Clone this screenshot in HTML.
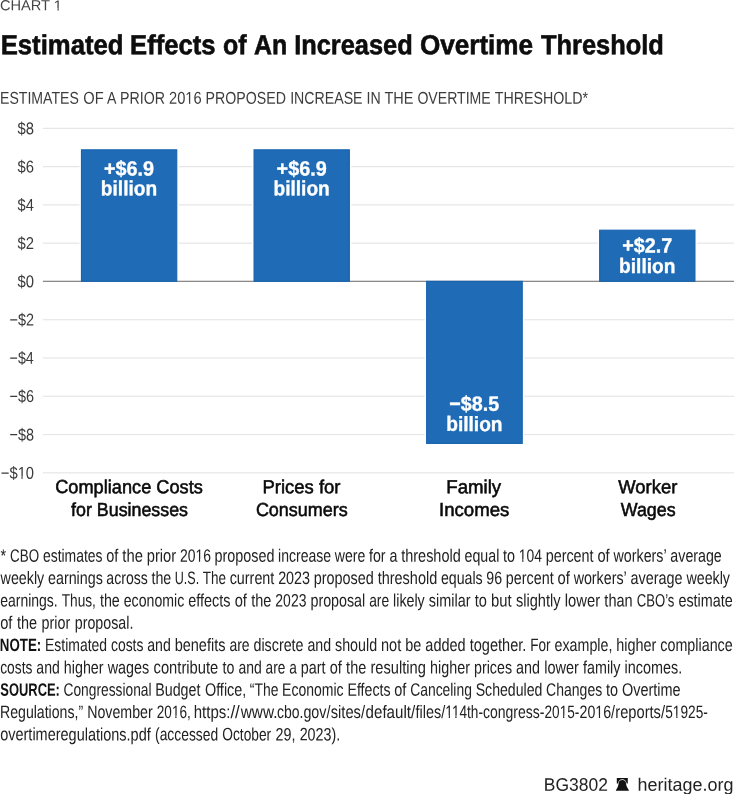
<!DOCTYPE html>
<html lang="en">
<head>
<meta charset="utf-8">
<title>Estimated Effects of An Increased Overtime Threshold</title>
<style>
html,body{margin:0;padding:0;background:#fff;}
body{width:734px;height:794px;overflow:hidden;font-family:'Liberation Sans', Arial, Helvetica, sans-serif;}
svg{display:block;}
svg text{font-family:'Liberation Sans', Arial, Helvetica, sans-serif;white-space:pre;}
</style>
</head>
<body>
<svg width="734" height="794" viewBox="0 0 734 794" role="img" aria-label="Estimated Effects of An Increased Overtime Threshold">
<rect width="734" height="794" fill="#fff"/>
<g id="grid" fill="#e6e6e6">
<rect x="42.9" y="127.77" width="691.1" height="1.2"/>
<rect x="42.9" y="166.04" width="691.1" height="1.2"/>
<rect x="42.9" y="204.31" width="691.1" height="1.2"/>
<rect x="42.9" y="242.58" width="691.1" height="1.2"/>
<rect x="42.9" y="319.12" width="691.1" height="1.2"/>
<rect x="42.9" y="357.39" width="691.1" height="1.2"/>
<rect x="42.9" y="395.66" width="691.1" height="1.2"/>
<rect x="42.9" y="433.93" width="691.1" height="1.2"/>
<rect x="42.9" y="472.20" width="691.1" height="1.2"/>
</g>
<g id="halo" fill="#fff">
<rect x="79.50" y="147.87" width="99.20" height="135.33"/>
<rect x="252.10" y="147.87" width="99.20" height="135.33"/>
<rect x="424.70" y="279.40" width="99.50" height="165.95"/>
<rect x="597.70" y="228.24" width="99.20" height="54.96"/>
</g>
<rect id="zero" x="42.9" y="280.70" width="691.1" height="1.3" fill="#8a8a8a"/>
<g id="bars" fill="#1f6bb5" stroke="#1662b0" stroke-width="1.1">
<rect x="81.45" y="149.82" width="95.30" height="131.43"/>
<rect x="254.05" y="149.82" width="95.30" height="131.43"/>
<rect x="426.65" y="281.35" width="95.60" height="162.05"/>
<rect x="599.65" y="230.19" width="95.30" height="51.06"/>
</g>
<g id="kicker" font-size="14.6" fill="#444">
<text transform="translate(-0.10 10.32) rotate(0.06) scale(1.0025 1)">CHART 1</text>
</g>
<g id="title" font-size="27.7" fill="#0d0d0d" font-weight="bold" stroke="#0d0d0d" stroke-width="0.6">
<text transform="translate(0.71 54.14) rotate(0.06) scale(0.9277 1)">Estimated</text>
<text transform="translate(130.11 54.16) rotate(0.06) scale(0.9244 1)">Effects</text>
<text transform="translate(223.02 54.19) rotate(0.06) scale(0.9010 1)">of</text>
<text transform="translate(253.98 54.18) rotate(0.06) scale(0.8993 1)">An</text>
<text transform="translate(294.23 54.14) rotate(0.06) scale(0.9156 1)">Increased</text>
<text transform="translate(419.99 54.14) rotate(0.06) scale(0.9415 1)">Overtime</text>
<text transform="translate(541.00 54.14) rotate(0.06) scale(0.9172 1)">Threshold</text>
</g>
<g id="subtitle" font-size="17.1" fill="#3c3c3c">
<text transform="translate(0.06 103.76) rotate(0.06) scale(0.8247 1)">ESTIMATES</text>
<text transform="translate(83.26 103.79) rotate(0.06) scale(0.8584 1)">OF</text>
<text transform="translate(107.10 103.80) rotate(0.06) scale(0.8267 1)">A</text>
<text transform="translate(119.95 103.78) rotate(0.06) scale(0.8309 1)">PRIOR</text>
<text transform="translate(169.06 103.78) rotate(0.06) scale(0.8575 1)">2016</text>
<text transform="translate(205.55 103.76) rotate(0.06) scale(0.8307 1)">PROPOSED</text>
<text transform="translate(290.16 103.76) rotate(0.06) scale(0.8282 1)">INCREASE</text>
<text transform="translate(366.46 103.79) rotate(0.06) scale(0.8281 1)">IN</text>
<text transform="translate(384.39 103.79) rotate(0.06) scale(0.8481 1)">THE</text>
<text transform="translate(417.38 103.76) rotate(0.06) scale(0.8251 1)">OVERTIME</text>
<text transform="translate(494.79 103.75) rotate(0.06) scale(0.8332 1)">THRESHOLD*</text>
</g>
<g id="yaxis" font-size="17.1" fill="#3a3a3a">
<text transform="translate(17.58 134.21) rotate(0.06) scale(0.8667 1)">$8</text>
<text transform="translate(17.58 172.48) rotate(0.06) scale(0.8667 1)">$6</text>
<text transform="translate(17.59 210.75) rotate(0.06) scale(0.8548 1)">$4</text>
<text transform="translate(17.58 249.02) rotate(0.06) scale(0.8667 1)">$2</text>
<text transform="translate(17.58 287.29) rotate(0.06) scale(0.8667 1)">$0</text>
<text transform="translate(9.57 325.56) rotate(0.06) scale(0.8436 1)">−$2</text>
<text transform="translate(9.57 363.83) rotate(0.06) scale(0.8360 1)">−$4</text>
<text transform="translate(9.57 402.10) rotate(0.06) scale(0.8436 1)">−$6</text>
<text transform="translate(9.57 440.37) rotate(0.06) scale(0.8436 1)">−$8</text>
<text transform="translate(0.85 478.63) rotate(0.06) scale(0.8622 1)">−$10</text>
</g>
<g id="barlabels" font-size="20.6" fill="#fff" font-weight="bold" stroke="#fff" stroke-width="0.35">
<text transform="translate(103.98 175.57) rotate(0.06) scale(0.9616 1)">+$6.9</text>
<text transform="translate(100.84 195.27) rotate(0.06) scale(0.9305 1)">billion</text>
<text transform="translate(276.58 175.57) rotate(0.06) scale(0.9616 1)">+$6.9</text>
<text transform="translate(273.44 195.27) rotate(0.06) scale(0.9305 1)">billion</text>
<text transform="translate(449.33 410.77) rotate(0.06) scale(0.9569 1)">−$8.5</text>
<text transform="translate(446.19 430.87) rotate(0.06) scale(0.9305 1)">billion</text>
<text transform="translate(622.18 252.37) rotate(0.06) scale(0.9616 1)">+$2.7</text>
<text transform="translate(619.04 272.87) rotate(0.06) scale(0.9305 1)">billion</text>
</g>
<g id="xaxis" font-size="18.8" fill="#0a0a0a" stroke="#0a0a0a" stroke-width="0.55">
<text transform="translate(55.17 493.12) rotate(0.06) scale(0.9679 1)">Compliance Costs</text>
<text transform="translate(71.10 515.94) rotate(0.06) scale(0.9491 1)">for Businesses</text>
<text transform="translate(262.47 493.16) rotate(0.06) scale(0.9833 1)">Prices for</text>
<text transform="translate(255.88 515.95) rotate(0.06) scale(0.9568 1)">Consumers</text>
<text transform="translate(446.36 493.17) rotate(0.06) scale(0.9908 1)">Family</text>
<text transform="translate(439.01 515.96) rotate(0.06) scale(0.9913 1)">Incomes</text>
<text transform="translate(618.25 493.17) rotate(0.06) scale(0.9802 1)">Worker</text>
<text transform="translate(620.74 515.97) rotate(0.06) scale(0.9489 1)">Wages</text>
</g>
<g id="note1" font-size="18.0" fill="#222">
<text transform="translate(0.60 561.75) rotate(0.06) scale(0.7955 1)">*</text>
<text transform="translate(10.12 561.74) rotate(0.06) scale(0.7445 1)">CBO</text>
<text transform="translate(42.97 561.72) rotate(0.06) scale(0.7736 1)">estimates</text>
<text transform="translate(106.23 561.74) rotate(0.06) scale(0.8065 1)">of</text>
<text transform="translate(122.32 561.74) rotate(0.06) scale(0.8222 1)">the</text>
<text transform="translate(146.72 561.74) rotate(0.06) scale(0.8165 1)">prior</text>
<text transform="translate(179.95 561.73) rotate(0.06) scale(0.7730 1)">2016</text>
<text transform="translate(214.57 561.72) rotate(0.06) scale(0.7982 1)">proposed</text>
<text transform="translate(278.09 561.72) rotate(0.06) scale(0.7798 1)">increase</text>
<text transform="translate(334.82 561.73) rotate(0.06) scale(0.7813 1)">were</text>
<text transform="translate(369.03 561.74) rotate(0.06) scale(0.7892 1)">for</text>
<text transform="translate(389.39 561.75) rotate(0.06) scale(0.7940 1)">a</text>
<text transform="translate(401.19 561.72) rotate(0.06) scale(0.8045 1)">threshold</text>
<text transform="translate(464.53 561.73) rotate(0.06) scale(0.7906 1)">equal</text>
<text transform="translate(503.05 561.74) rotate(0.06) scale(0.7972 1)">to</text>
<text transform="translate(518.75 561.74) rotate(0.06) scale(0.7701 1)">104</text>
<text transform="translate(545.67 561.73) rotate(0.06) scale(0.7986 1)">percent</text>
<text transform="translate(597.44 561.74) rotate(0.06) scale(0.8141 1)">of</text>
<text transform="translate(613.52 561.72) rotate(0.06) scale(0.7930 1)">workers’</text>
<text transform="translate(670.35 561.72) rotate(0.06) scale(0.7914 1)">average</text>
</g>
<g id="note2" font-size="18.0" fill="#222">
<text transform="translate(0.60 584.06) rotate(0.06) scale(0.7934 1)">weekly</text>
<text transform="translate(47.99 584.05) rotate(0.06) scale(0.7939 1)">earnings</text>
<text transform="translate(106.35 584.06) rotate(0.06) scale(0.7817 1)">across</text>
<text transform="translate(151.45 584.07) rotate(0.06) scale(0.7921 1)">the</text>
<text transform="translate(174.80 584.07) rotate(0.06) scale(0.6986 1)">U.S.</text>
<text transform="translate(202.84 584.07) rotate(0.06) scale(0.7491 1)">The</text>
<text transform="translate(229.67 584.06) rotate(0.06) scale(0.7979 1)">current</text>
<text transform="translate(278.14 584.06) rotate(0.06) scale(0.7968 1)">2023</text>
<text transform="translate(313.72 584.05) rotate(0.06) scale(0.8020 1)">proposed</text>
<text transform="translate(377.64 584.05) rotate(0.06) scale(0.8050 1)">threshold</text>
<text transform="translate(440.89 584.06) rotate(0.06) scale(0.7876 1)">equals</text>
<text transform="translate(486.34 584.07) rotate(0.06) scale(0.7881 1)">96</text>
<text transform="translate(505.82 584.06) rotate(0.06) scale(0.7966 1)">percent</text>
<text transform="translate(557.49 584.07) rotate(0.06) scale(0.8199 1)">of</text>
<text transform="translate(573.63 584.05) rotate(0.06) scale(0.7928 1)">workers’</text>
<text transform="translate(630.54 584.05) rotate(0.06) scale(0.8007 1)">average</text>
<text transform="translate(686.44 584.06) rotate(0.06) scale(0.7920 1)">weekly</text>
</g>
<g id="note3" font-size="18.0" fill="#222">
<text transform="translate(0.22 606.38) rotate(0.06) scale(0.7776 1)">earnings.</text>
<text transform="translate(61.67 606.39) rotate(0.06) scale(0.7610 1)">Thus,</text>
<text transform="translate(99.94 606.40) rotate(0.06) scale(0.7930 1)">the</text>
<text transform="translate(123.75 606.38) rotate(0.06) scale(0.7851 1)">economic</text>
<text transform="translate(188.25 606.39) rotate(0.06) scale(0.8026 1)">effects</text>
<text transform="translate(234.68 606.40) rotate(0.06) scale(0.8147 1)">of</text>
<text transform="translate(251.14 606.40) rotate(0.06) scale(0.8055 1)">the</text>
<text transform="translate(275.35 606.39) rotate(0.06) scale(0.7769 1)">2023</text>
<text transform="translate(310.45 606.38) rotate(0.06) scale(0.7935 1)">proposal</text>
<text transform="translate(369.17 606.40) rotate(0.06) scale(0.7674 1)">are</text>
<text transform="translate(393.06 606.39) rotate(0.06) scale(0.7920 1)">likely</text>
<text transform="translate(428.84 606.39) rotate(0.06) scale(0.8018 1)">similar</text>
<text transform="translate(474.72 606.40) rotate(0.06) scale(0.8108 1)">to</text>
<text transform="translate(491.02 606.40) rotate(0.06) scale(0.8225 1)">but</text>
<text transform="translate(515.93 606.39) rotate(0.06) scale(0.8103 1)">slightly</text>
<text transform="translate(564.79 606.39) rotate(0.06) scale(0.8210 1)">lower</text>
<text transform="translate(604.36 606.40) rotate(0.06) scale(0.8072 1)">than</text>
<text transform="translate(636.75 606.39) rotate(0.06) scale(0.7286 1)">CBO’s</text>
<text transform="translate(678.40 606.38) rotate(0.06) scale(0.7985 1)">estimate</text>
</g>
<g id="note4" font-size="18.0" fill="#222">
<text transform="translate(0.19 628.73) rotate(0.06) scale(0.8124 1)">of</text>
<text transform="translate(17.02 628.73) rotate(0.06) scale(0.8041 1)">the</text>
<text transform="translate(41.62 628.73) rotate(0.06) scale(0.7967 1)">prior</text>
<text transform="translate(74.77 628.71) rotate(0.06) scale(0.7922 1)">proposal.</text>
</g>
<g id="note5" font-size="18.0" fill="#111" font-weight="bold">
<text transform="translate(-0.22 651.05) rotate(0.06) scale(0.7400 1)">NOTE:</text>
<text transform="translate(45.06 651.04) rotate(0.06) scale(0.7753 1)" font-weight="normal" fill="#222">Estimated</text>
<text transform="translate(110.94 651.05) rotate(0.06) scale(0.7741 1)" font-weight="normal" fill="#222">costs</text>
<text transform="translate(147.24 651.06) rotate(0.06) scale(0.7836 1)" font-weight="normal" fill="#222">and</text>
<text transform="translate(174.64 651.04) rotate(0.06) scale(0.8071 1)" font-weight="normal" fill="#222">benefits</text>
<text transform="translate(229.44 651.06) rotate(0.06) scale(0.7770 1)" font-weight="normal" fill="#222">are</text>
<text transform="translate(253.49 651.04) rotate(0.06) scale(0.7945 1)" font-weight="normal" fill="#222">discrete</text>
<text transform="translate(307.44 651.06) rotate(0.06) scale(0.7892 1)" font-weight="normal" fill="#222">and</text>
<text transform="translate(334.99 651.05) rotate(0.06) scale(0.7939 1)" font-weight="normal" fill="#222">should</text>
<text transform="translate(381.02 651.06) rotate(0.06) scale(0.8088 1)" font-weight="normal" fill="#222">not</text>
<text transform="translate(405.30 651.06) rotate(0.06) scale(0.8022 1)" font-weight="normal" fill="#222">be</text>
<text transform="translate(425.35 651.05) rotate(0.06) scale(0.8047 1)" font-weight="normal" fill="#222">added</text>
<text transform="translate(469.65 651.04) rotate(0.06) scale(0.8095 1)" font-weight="normal" fill="#222">together.</text>
<text transform="translate(530.29 651.06) rotate(0.06) scale(0.7530 1)" font-weight="normal" fill="#222">For</text>
<text transform="translate(554.56 651.04) rotate(0.06) scale(0.7918 1)" font-weight="normal" fill="#222">example,</text>
<text transform="translate(616.26 651.05) rotate(0.06) scale(0.8014 1)" font-weight="normal" fill="#222">higher</text>
<text transform="translate(660.34 651.03) rotate(0.06) scale(0.7952 1)" font-weight="normal" fill="#222">compliance</text>
</g>
<g id="note6" font-size="18.0" fill="#222">
<text transform="translate(0.22 673.38) rotate(0.06) scale(0.7663 1)">costs</text>
<text transform="translate(36.36 673.39) rotate(0.06) scale(0.7799 1)">and</text>
<text transform="translate(63.80 673.38) rotate(0.06) scale(0.7945 1)">higher</text>
<text transform="translate(107.69 673.38) rotate(0.06) scale(0.7996 1)">wages</text>
<text transform="translate(153.53 673.37) rotate(0.06) scale(0.8198 1)">contribute</text>
<text transform="translate(222.53 673.39) rotate(0.06) scale(0.7900 1)">to</text>
<text transform="translate(238.38 673.39) rotate(0.06) scale(0.7749 1)">and</text>
<text transform="translate(265.53 673.39) rotate(0.06) scale(0.7603 1)">are</text>
<text transform="translate(289.18 673.40) rotate(0.06) scale(0.7594 1)">a</text>
<text transform="translate(300.82 673.39) rotate(0.06) scale(0.7963 1)">part</text>
<text transform="translate(329.73 673.39) rotate(0.06) scale(0.8097 1)">of</text>
<text transform="translate(346.12 673.39) rotate(0.06) scale(0.8048 1)">the</text>
<text transform="translate(370.45 673.37) rotate(0.06) scale(0.8155 1)">resulting</text>
<text transform="translate(430.06 673.38) rotate(0.06) scale(0.7976 1)">higher</text>
<text transform="translate(474.06 673.38) rotate(0.06) scale(0.7911 1)">prices</text>
<text transform="translate(516.11 673.39) rotate(0.06) scale(0.7965 1)">and</text>
<text transform="translate(544.16 673.38) rotate(0.06) scale(0.8065 1)">lower</text>
<text transform="translate(583.09 673.38) rotate(0.06) scale(0.7945 1)">family</text>
<text transform="translate(624.57 673.37) rotate(0.06) scale(0.8005 1)">incomes.</text>
</g>
<g id="note7" font-size="18.0" fill="#111" font-weight="bold">
<text transform="translate(0.34 695.70) rotate(0.06) scale(0.7187 1)">SOURCE:</text>
<text transform="translate(63.52 695.68) rotate(0.06) scale(0.7650 1)" font-weight="normal" fill="#222">Congressional</text>
<text transform="translate(155.21 695.71) rotate(0.06) scale(0.7928 1)" font-weight="normal" fill="#222">Budget</text>
<text transform="translate(204.91 695.71) rotate(0.06) scale(0.8022 1)" font-weight="normal" fill="#222">Office,</text>
<text transform="translate(249.84 695.72) rotate(0.06) scale(0.7726 1)" font-weight="normal" fill="#222">“The</text>
<text transform="translate(282.10 695.70) rotate(0.06) scale(0.7795 1)" font-weight="normal" fill="#222">Economic</text>
<text transform="translate(347.49 695.71) rotate(0.06) scale(0.7865 1)" font-weight="normal" fill="#222">Effects</text>
<text transform="translate(394.30 695.72) rotate(0.06) scale(0.8060 1)" font-weight="normal" fill="#222">of</text>
<text transform="translate(410.17 695.70) rotate(0.06) scale(0.7718 1)" font-weight="normal" fill="#222">Canceling</text>
<text transform="translate(475.65 695.70) rotate(0.06) scale(0.7849 1)" font-weight="normal" fill="#222">Scheduled</text>
<text transform="translate(546.11 695.70) rotate(0.06) scale(0.7793 1)" font-weight="normal" fill="#222">Changes</text>
<text transform="translate(606.05 695.72) rotate(0.06) scale(0.8017 1)" font-weight="normal" fill="#222">to</text>
<text transform="translate(621.92 695.70) rotate(0.06) scale(0.8039 1)" font-weight="normal" fill="#222">Overtime</text>
</g>
<g id="note8" font-size="18.0" fill="#222">
<text transform="translate(0.02 718.02) rotate(0.06) scale(0.7843 1)">Regulations,”</text>
<text transform="translate(87.20 718.03) rotate(0.06) scale(0.7899 1)">November</text>
<text transform="translate(156.78 718.04) rotate(0.06) scale(0.7545 1)">2016,</text>
<text transform="translate(193.76 718.04) rotate(0.06) scale(0.8339 1)">https:</text>
<text transform="translate(230.40 718.06) rotate(0.06) scale(0.9400 1)">//</text>
<text transform="translate(240.70 718.04) rotate(0.06) scale(0.8554 1)">www.</text>
<text transform="translate(276.94 718.05) rotate(0.06) scale(0.7774 1)">cbo.</text>
<text transform="translate(303.40 718.05) rotate(0.06) scale(0.7944 1)">gov/</text>
<text transform="translate(330.68 718.04) rotate(0.06) scale(0.8182 1)">sites/</text>
<text transform="translate(365.61 718.03) rotate(0.06) scale(0.8389 1)">default/</text>
<text transform="translate(415.56 718.04) rotate(0.06) scale(0.8017 1)">files/</text>
<text transform="translate(445.33 718.04) rotate(0.06) scale(0.7566 1)">114th-</text>
<text transform="translate(482.93 718.03) rotate(0.06) scale(0.7797 1)">congress-</text>
<text transform="translate(544.55 718.04) rotate(0.06) scale(0.7555 1)">2015-</text>
<text transform="translate(579.51 718.04) rotate(0.06) scale(0.7895 1)">2016/</text>
<text transform="translate(615.28 718.03) rotate(0.06) scale(0.8156 1)">reports/</text>
<text transform="translate(665.25 718.04) rotate(0.06) scale(0.7592 1)">51925-</text>
</g>
<g id="note9" font-size="18.0" fill="#222">
<text transform="translate(0.20 740.31) rotate(0.06) scale(0.8049 1)">overtimeregulations.pdf</text>
<text transform="translate(155.05 740.36) rotate(0.06) scale(0.7705 1)">(accessed</text>
<text transform="translate(222.28 740.36) rotate(0.06) scale(0.7640 1)">October</text>
<text transform="translate(275.48 740.38) rotate(0.06) scale(0.7944 1)">29,</text>
<text transform="translate(299.67 740.37) rotate(0.06) scale(0.7946 1)">2023).</text>
</g>
<g id="footer" font-size="18.1" fill="#222">
<text transform="translate(543.75 790.67) rotate(0.06) scale(0.9656 1)">BG3802</text>
<text transform="translate(637.56 790.65) rotate(0.06) scale(0.9931 1)">heritage.org</text>
</g>
<g id="trim" fill="#fff">
<path transform="translate(-0.10 10.32) rotate(0.06) scale(1.0025 1)" d="M53.89 -2.19H57.43V1H53.89ZM58.76 -2.19H62.19V1H58.76Z"/>
<path transform="translate(169.06 103.78) rotate(0.06) scale(0.8575 1)" d="M19.30 -2.38H23.28V1H19.30ZM24.83 -2.38H28.68V1H24.83Z"/>
<path transform="translate(0.85 478.63) rotate(0.06) scale(0.8622 1)" d="M19.79 -2.38H23.76V1H19.79ZM25.32 -2.38H29.16V1H25.32Z"/>
<path transform="translate(179.95 561.73) rotate(0.06) scale(0.7730 1)" d="M20.39 -2.44H24.52V1H20.39ZM26.15 -2.44H30.15V1H26.15Z"/>
<path transform="translate(518.75 561.74) rotate(0.06) scale(0.7701 1)" d="M0.37 -2.44H4.51V1H0.37ZM6.14 -2.44H10.13V1H6.14Z"/>
<path transform="translate(156.78 718.04) rotate(0.06) scale(0.7545 1)" d="M20.39 -2.44H24.52V1H20.39ZM26.15 -2.44H30.15V1H26.15Z"/>
<path transform="translate(445.33 718.04) rotate(0.06) scale(0.7566 1)" d="M0.37 -2.44H4.51V1H0.37ZM6.14 -2.44H10.13V1H6.14Z"/>
<path transform="translate(445.33 718.04) rotate(0.06) scale(0.7566 1)" d="M9.04 -2.44H13.18V1H9.04ZM14.81 -2.44H18.80V1H14.81Z"/>
<path transform="translate(544.55 718.04) rotate(0.06) scale(0.7555 1)" d="M20.39 -2.44H24.52V1H20.39ZM26.15 -2.44H30.15V1H26.15Z"/>
<path transform="translate(579.51 718.04) rotate(0.06) scale(0.7895 1)" d="M20.39 -2.44H24.52V1H20.39ZM26.15 -2.44H30.15V1H26.15Z"/>
<path transform="translate(665.25 718.04) rotate(0.06) scale(0.7592 1)" d="M10.37 -2.44H14.51V1H10.37ZM16.14 -2.44H20.13V1H16.14Z"/>
</g>
<g id="bell" transform="translate(606 772)" fill="#111"><path d="M10.8 5.9H21.8V11.6H20.6A4.3 4.3 0 0 0 12 11.6H10.8Z"/><path d="M16.3 7.9A3.7 3.7 0 0 1 20 11.6C20.2 13 20.6 14.2 21.1 15.3L22.9 18.2V18.75H9.9V18.2L11.6 15.3C12.1 14.2 12.4 13 12.6 11.6A3.7 3.7 0 0 1 16.3 7.9Z"/></g>
</svg>
</body>
</html>
